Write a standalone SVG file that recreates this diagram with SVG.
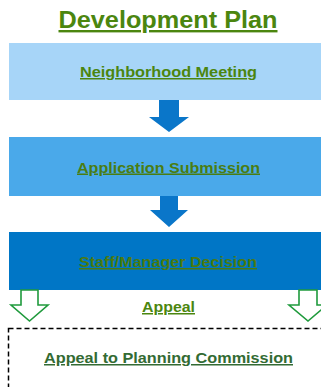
<svg xmlns="http://www.w3.org/2000/svg" width="321" height="387" viewBox="0 0 321 387">
<style>
.t{font-family:"Liberation Sans",Arial,sans-serif;font-weight:bold;text-anchor:middle;text-decoration:underline}
.g{fill:#4b860f}
.fa{fill:#0a76c9;stroke:none}
.ha{fill:#ffffff;stroke:#1f9a3c;stroke-width:1.6;stroke-linejoin:miter}
</style>
<rect width="321" height="387" fill="#ffffff"/>
<g id="title"><text class="t g" x="168" y="28" font-size="24" textLength="219" lengthAdjust="spacingAndGlyphs">Development Plan</text></g>
<g id="n1"><rect x="9" y="43" width="320" height="57" fill="#a7d5f8"/><text class="t g" x="168.5" y="77" font-size="15" textLength="177" lengthAdjust="spacingAndGlyphs">Neighborhood Meeting</text></g>
<g id="n2"><rect x="9" y="137" width="320" height="59" fill="#4aa9ea"/><text class="t" fill="#4a7d12" x="168.5" y="172.5" font-size="15" textLength="183" lengthAdjust="spacingAndGlyphs">Application Submission</text></g>
<g id="n3"><rect x="9" y="232" width="320" height="58" fill="#0076c6"/><text class="t" fill="#4a7a10" x="168" y="267" font-size="15" textLength="178" lengthAdjust="spacingAndGlyphs">Staff/Manager Decision</text></g>
<g id="appeal"><text class="t g" x="168.5" y="312" font-size="15" textLength="53" lengthAdjust="spacingAndGlyphs">Appeal</text></g>
<g id="n4"><rect x="8.5" y="328.5" width="330" height="80" fill="none" stroke="#000000" stroke-width="1.5" stroke-dasharray="5,3"/><text class="t" fill="#336b33" x="168.5" y="363" font-size="15" textLength="249" lengthAdjust="spacingAndGlyphs">Appeal to Planning Commission</text></g>
<g id="connectors">
<polygon class="fa" points="159,100 179,100 179,117 189,117 169,132 149,117 159,117"/>
<polygon class="fa" points="160,196 178,196 178,210 188,210 169,227 150,210 160,210"/>
<polygon class="ha" points="21,290 38,290 38,305 48,305 29.5,321 11,305 21,305"/>
<polygon class="ha" points="299,290 317,290 317,305 327,305 308,321 289,305 299,305"/>
</g>
</svg>
